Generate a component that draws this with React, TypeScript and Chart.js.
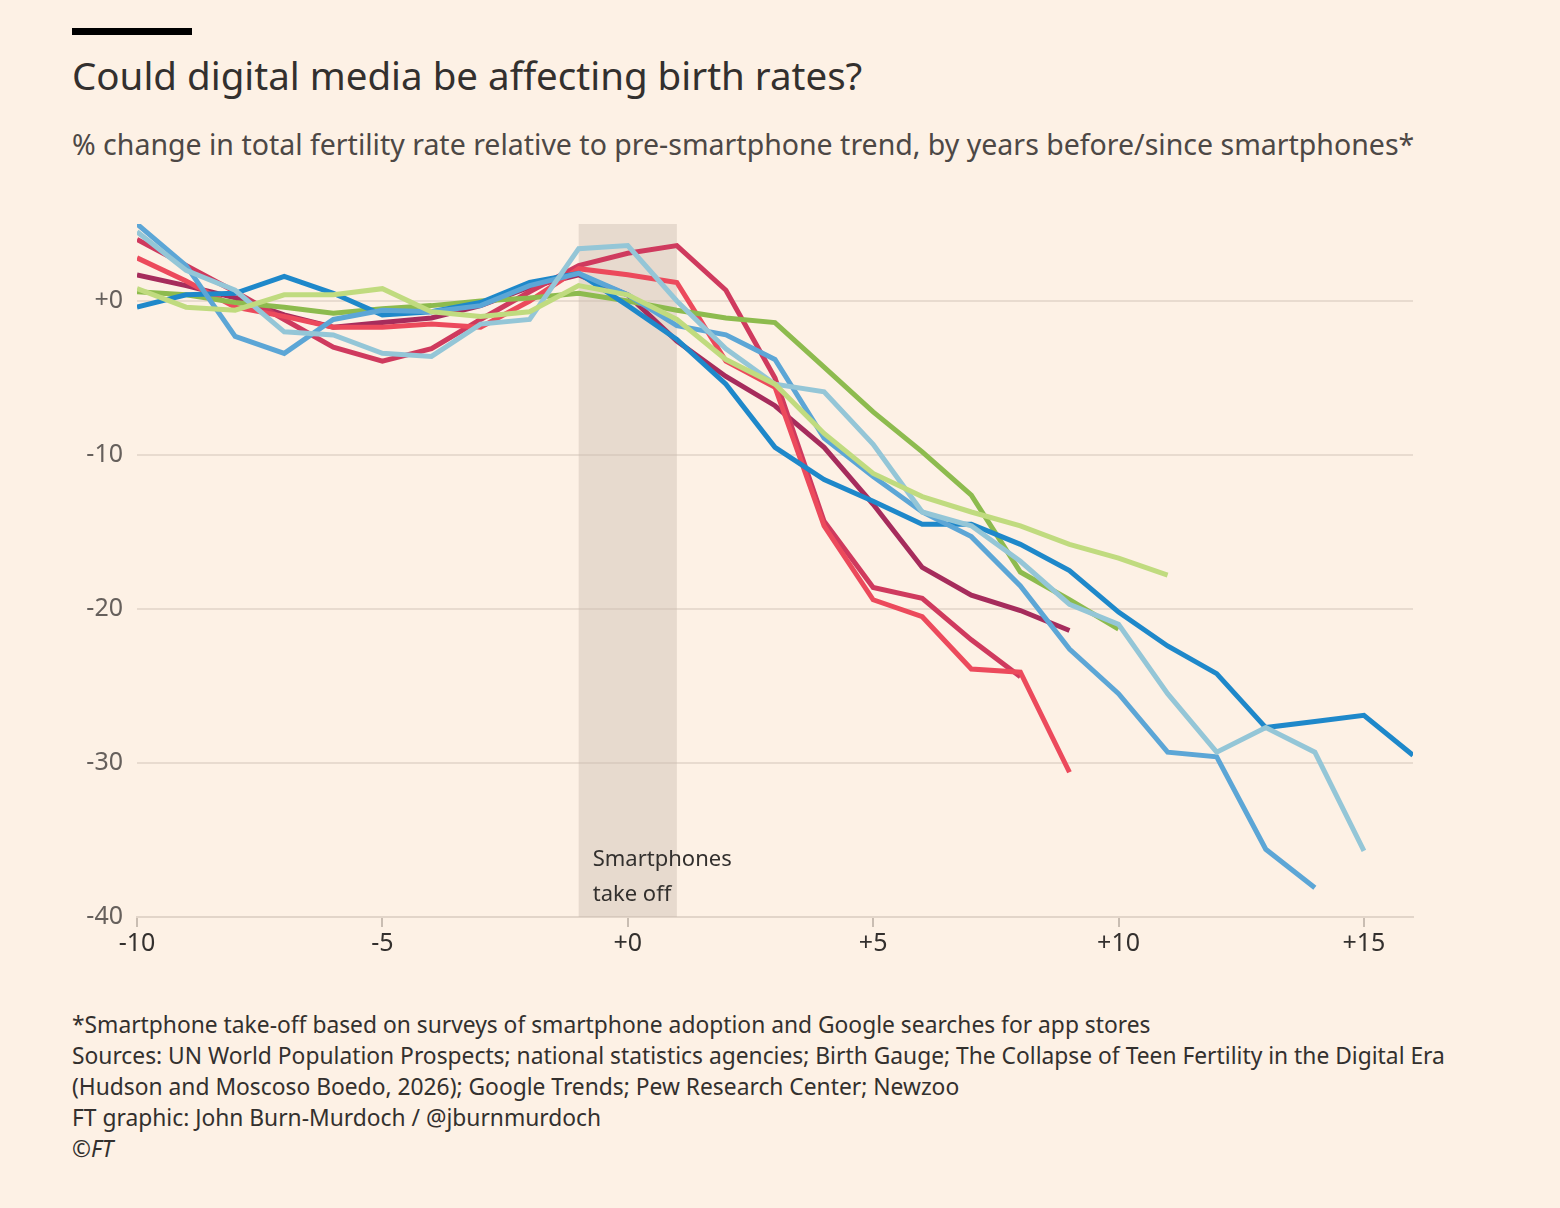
import React, { useEffect, useRef } from "react";
import { Chart, registerables } from "chart.js";
Chart.register(...registerables);

const startYear = -10;
const darkBlue = [-0.4,0.4,0.5,1.6,0.5,-0.9,-0.7,-0.1,1.2,1.8,-0.3,-2.5,-5.4,-9.5,-11.6,-13,-14.5,-14.5,-15.8,-17.5,-20.2,-22.4,-24.2,-27.7,-27.3,-26.9,-29.5];
const midBlue = [5,2.3,-2.3,-3.4,-1.2,-0.6,-0.7,-0.3,1,1.8,0.4,-1.6,-2.2,-3.8,-8.9,-11.4,-13.7,-15.3,-18.5,-22.6,-25.5,-29.3,-29.6,-35.6,-38.1];
const lightBlue = [4.5,2,0.7,-2,-2.2,-3.4,-3.6,-1.5,-1.2,3.4,3.6,0,-3.1,-5.4,-5.9,-9.3,-13.7,-14.6,-16.9,-19.7,-21,-25.5,-29.3,-27.7,-29.3,-35.7];
const darkGreen = [0.6,0.4,-0.1,-0.4,-0.8,-0.5,-0.3,0,0.2,0.5,0,-0.6,-1.1,-1.4,-4.3,-7.2,-9.8,-12.6,-17.6,-19.4,-21.3];
const lightGreen = [0.8,-0.4,-0.6,0.4,0.4,0.8,-0.7,-1,-0.7,1,0.4,-1.2,-3.8,-5.4,-8.6,-11.2,-12.7,-13.7,-14.6,-15.8,-16.7,-17.8];
const brightRed = [2.8,1.3,-0.4,-1,-1.7,-1.7,-1.5,-1.7,0,2.1,1.7,1.2,-3.9,-5.6,-14.6,-19.4,-20.5,-23.9,-24.1,-30.6];
const crimson = [4,2.3,0.6,-1.2,-3,-3.9,-3.1,-1.2,0.6,2.3,3.1,3.6,0.7,-5,-14.3,-18.6,-19.3,-22,-24.4];
const magenta = [1.7,1,0.2,-0.9,-1.7,-1.4,-1.1,-0.3,0.9,1.7,0.4,-2.6,-4.9,-6.8,-9.5,-13.2,-17.3,-19.1,-20.1,-21.4];

const series: [number[], string][] = [
  [lightGreen, "#c0db7f"],
  [lightBlue, "#94c6d7"],
  [midBlue, "#5ca6d6"],
  [darkBlue, "#1e88ca"],
  [darkGreen, "#8dbb4e"],
  [brightRed, "#ec4a5c"],
  [crimson, "#cf3a5e"],
  [magenta, "#a62c5c"],
];
const yTicks = [0, -10, -20, -30, -40];
const xTicks = [-10, -5, 0, 5, 10, 15];
const fmt = (v: number) => (v > 0 ? "+" + v : v === 0 ? "+0" : String(v));

const FONT = "'Noto Sans', sans-serif";

export default function App() {
  const ref = useRef<HTMLCanvasElement>(null);
  useEffect(() => {
    const bandPlugin = {
      id: "band",
      beforeDatasetsDraw(chart: any) {
        const { ctx, scales } = chart;
        const x0 = scales.x.getPixelForValue(-1);
        const x1 = scales.x.getPixelForValue(1);
        const y0 = scales.y.getPixelForValue(5);
        const y1 = scales.y.getPixelForValue(-40);
        ctx.save();
        ctx.fillStyle = "rgba(200,185,175,0.42)";
        ctx.fillRect(x0, y0, x1 - x0, y1 - y0);
        ctx.fillStyle = "#33302e";
        ctx.font = "22px " + FONT;
        ctx.textBaseline = "middle";
        ctx.fillText("Smartphones", x0 + 14, y1 - 57);
        ctx.fillText("take off", x0 + 14, y1 - 22);
        ctx.restore();
      },
    };
    const chart = new Chart(ref.current!, {
      type: "line",
      data: {
        datasets: series.map(([vals, color]) => ({
          data: vals.map((v, i) => ({ x: startYear + i, y: v })),
          borderColor: color,
          borderWidth: 5,
          pointRadius: 0,
          tension: 0,
          borderJoinStyle: "miter" as const,
        })),
      },
      options: {
        animation: false,
        responsive: false,
        layout: { padding: { top: 8, right: 87, left: 0, bottom: 0 } },
        plugins: { legend: { display: false }, tooltip: { enabled: false } },
        scales: {
          x: {
            type: "linear",
            min: -10,
            max: 16,
            afterBuildTicks: (s: any) => { s.ticks = xTicks.map((v) => ({ value: v })); },
            afterFit: (s: any) => { s.height = 68; },
            grid: { display: true, drawOnChartArea: false, drawTicks: true, tickLength: 10, color: "#c9bdb2", lineWidth: 2 },
            border: { display: true, color: "#e2d5c9", width: 2 },
            ticks: { color: "#33302e", font: { size: 25, family: FONT }, padding: 2, callback: (v: any) => fmt(Number(v)) },
          },
          y: {
            min: -40,
            max: 5,
            afterBuildTicks: (s: any) => { s.ticks = yTicks.map((v) => ({ value: v })); },
            afterFit: (s: any) => { s.width = 77; },
            grid: { color: "#e8dbcf", lineWidth: 2, drawTicks: false },
            border: { display: false },
            ticks: { color: "#66605c", font: { size: 25, family: FONT }, padding: 14, callback: (v: any) => fmt(Number(v)) },
          },
        },
      },
      plugins: [bandPlugin],
    });
    return () => chart.destroy();
  }, []);

  const foot = [
    "*Smartphone take-off based on surveys of smartphone adoption and Google searches for app stores",
    "Sources: UN World Population Prospects; national statistics agencies; Birth Gauge; The Collapse of Teen Fertility in the Digital Era",
    "(Hudson and Moscoso Boedo, 2026); Google Trends; Pew Research Center; Newzoo",
    "FT graphic: John Burn-Murdoch / @jburnmurdoch",
    "©FT",
  ];
  return (
    <div style={{ position: "fixed", left: 0, top: 0, width: 1560, height: 1208, background: "#fdf1e5", fontFamily: FONT, color: "#33302e", overflow: "hidden" }}>
      <div style={{ position: "absolute", left: 72, top: 28, width: 120, height: 7, background: "#000" }} />
      <div style={{ position: "absolute", left: 72, top: 49, fontSize: 38.5, lineHeight: "52px", whiteSpace: "nowrap" }}>Could digital media be affecting birth rates?</div>
      <div style={{ position: "absolute", left: 72, top: 124, fontSize: 28.5, lineHeight: "40px", color: "#4d4845", whiteSpace: "nowrap" }}>
        % change in total fertility rate relative to pre-smartphone trend, by years before/since smartphones*
      </div>
      <canvas ref={ref} width={1440} height={790} style={{ position: "absolute", left: 60, top: 195, width: 1440, height: 790 }} />
      <div style={{ position: "absolute", left: 72, top: 1009, fontSize: 22.8, lineHeight: "31px", whiteSpace: "nowrap" }}>
        {foot.map((t, i) => (
          <div key={i} style={i === 4 ? { fontStyle: "italic" } : undefined}>{t}</div>
        ))}
      </div>
    </div>
  );
}
